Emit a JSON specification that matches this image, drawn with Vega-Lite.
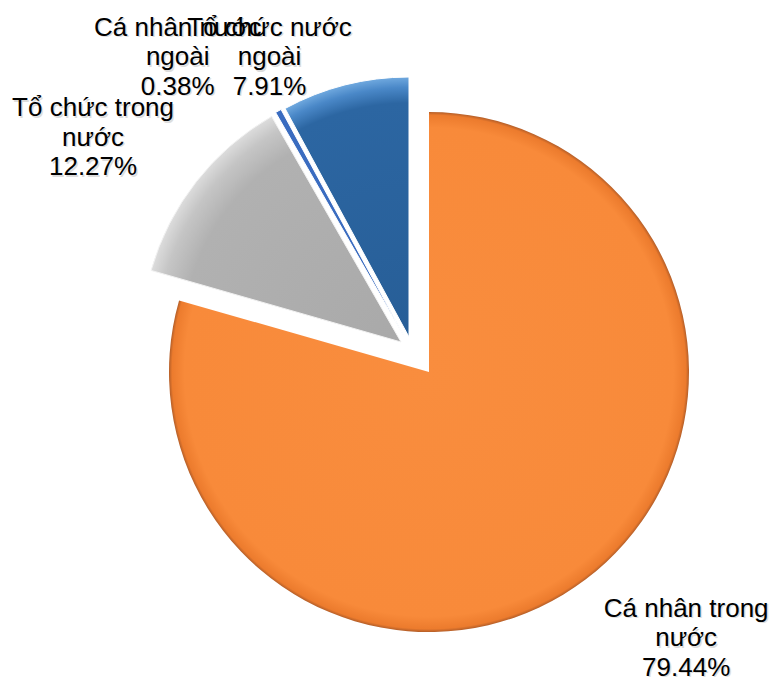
{
  "$schema": "https://vega.github.io/schema/vega-lite/v6.json",
  "width": 724,
  "height": 668,
  "autosize": {"type": "none"},
  "padding": {"left": 50, "top": 16, "right": 0, "bottom": 0},
  "background": "#ffffff",
  "config": {"view": {"stroke": null}},
  "data": {
    "values": [
      {"name": "Cá nhân trong nước", "value": 79.44, "label": "Cá nhân trong\nnước\n79.44%"},
      {"name": "Tổ chức trong nước", "value": 12.27, "label": "Tổ chức trong\nnước\n12.27%"},
      {"name": "Cá nhân nước ngoài", "value": 0.38, "label": "Cá nhân nước\nngoài\n0.38%"},
      {"name": "Tổ chức nước ngoài", "value": 7.91, "label": "Tổ chức nước\nngoài\n7.91%"}
    ]
  },
  "transform": [{"window": [{"op": "row_number", "as": "idx"}]}],
  "encoding": {
    "theta": {"field": "value", "type": "quantitative", "stack": true},
    "order": {"field": "idx", "type": "quantitative"},
    "detail": {"field": "name", "type": "nominal"}
  },
  "layer": [
    {
      "mark": {"type": "arc", "radius": 260, "xOffset": 17, "yOffset": 22, "strokeWidth": 0,
        "fill": {"gradient": "radial", "x1": 0.5, "y1": 0.5, "r1": 0, "x2": 0.5, "y2": 0.5, "r2": 0.5,
          "stops": [{"offset": 0, "color": "#F98D3E"}, {"offset": 0.94, "color": "#F88A3A"}, {"offset": 0.988, "color": "#EC7B2D"}, {"offset": 1, "color": "#B45E28"}]}},
      "encoding": {
        "opacity": {"condition": {"test": "datum.name === 'Cá nhân trong nước'", "value": 1}, "value": 0}
      }
    },
    {
      "mark": {"type": "arc", "radius": 260, "xOffset": -11, "yOffset": -8, "stroke": "#f2f2f2", "strokeWidth": 1,
        "fill": {"gradient": "radial", "x1": 1, "y1": 0.952, "r1": 0, "x2": 1, "y2": 0.952, "r2": 1.04,
          "stops": [{"offset": 0, "color": "#A9A9A9"}, {"offset": 0.84, "color": "#B1B1B1"}, {"offset": 0.94, "color": "#C5C5C5"}, {"offset": 1, "color": "#DCDCDC"}]}},
      "encoding": {
        "opacity": {"condition": {"test": "datum.name === 'Tổ chức trong nước'", "value": 1}, "value": 0}
      }
    },
    {
      "mark": {"type": "arc", "radius": 260, "xOffset": -7, "yOffset": -12, "stroke": "#ffffff", "strokeWidth": 1, "fill": "#3A6CC0"},
      "encoding": {
        "opacity": {"condition": {"test": "datum.name === 'Cá nhân nước ngoài'", "value": 1}, "value": 0}
      }
    },
    {
      "mark": {"type": "arc", "radius": 260, "xOffset": -3, "yOffset": -13, "stroke": "#ffffff", "strokeWidth": 1,
        "fill": {"gradient": "radial", "x1": 0.738, "y1": 1, "r1": 0, "x2": 0.738, "y2": 1, "r2": 1.0,
          "stops": [{"offset": 0, "color": "#275E97"}, {"offset": 0.9, "color": "#2C66A2"}, {"offset": 0.96, "color": "#4A88C8"}, {"offset": 1, "color": "#70A9DF"}]}},
      "encoding": {
        "opacity": {"condition": {"test": "datum.name === 'Tổ chức nước ngoài'", "value": 1}, "value": 0}
      }
    },
    {
      "mark": {"type": "text", "radius": 394, "dx": 38.5, "dy": -54.5, "font": "Liberation Sans", "fontSize": 26, "lineHeight": 29.5, "lineBreak": "\n", "align": "center", "baseline": "middle", "fill": "#000000"},
      "encoding": {
        "text": {"field": "label", "type": "nominal"},
        "opacity": {"condition": {"test": "datum.name === 'Cá nhân trong nước'", "value": 0.13}, "value": 0}
      }
    },
    {
      "mark": {"type": "text", "radius": 381, "dx": -17.5, "dy": -5.5, "font": "Liberation Sans", "fontSize": 26, "lineHeight": 29.5, "lineBreak": "\n", "align": "center", "baseline": "middle", "fill": "#000000"},
      "encoding": {
        "text": {"field": "label", "type": "nominal"},
        "opacity": {"condition": {"test": "datum.name === 'Tổ chức trong nước'", "value": 0.13}, "value": 0}
      }
    },
    {
      "mark": {"type": "text", "radius": 370, "dx": -52.5, "dy": 2.5, "font": "Liberation Sans", "fontSize": 26, "lineHeight": 29.5, "lineBreak": "\n", "align": "center", "baseline": "middle", "fill": "#000000"},
      "encoding": {
        "text": {"field": "label", "type": "nominal"},
        "opacity": {"condition": {"test": "datum.name === 'Cá nhân nước ngoài'", "value": 0.13}, "value": 0}
      }
    },
    {
      "mark": {"type": "text", "radius": 319, "dx": -62.5, "dy": -11.5, "font": "Liberation Sans", "fontSize": 26, "lineHeight": 29.5, "lineBreak": "\n", "align": "center", "baseline": "middle", "fill": "#000000"},
      "encoding": {
        "text": {"field": "label", "type": "nominal"},
        "opacity": {"condition": {"test": "datum.name === 'Tổ chức nước ngoài'", "value": 0.13}, "value": 0}
      }
    },
    {
      "mark": {"type": "text", "radius": 394, "dx": 37, "dy": -56, "font": "Liberation Sans", "fontSize": 26, "lineHeight": 29.5, "lineBreak": "\n", "align": "center", "baseline": "middle", "fill": "#000000"},
      "encoding": {
        "text": {"field": "label", "type": "nominal"},
        "opacity": {"condition": {"test": "datum.name === 'Cá nhân trong nước'", "value": 1}, "value": 0}
      }
    },
    {
      "mark": {"type": "text", "radius": 381, "dx": -19, "dy": -7, "font": "Liberation Sans", "fontSize": 26, "lineHeight": 29.5, "lineBreak": "\n", "align": "center", "baseline": "middle", "fill": "#000000"},
      "encoding": {
        "text": {"field": "label", "type": "nominal"},
        "opacity": {"condition": {"test": "datum.name === 'Tổ chức trong nước'", "value": 1}, "value": 0}
      }
    },
    {
      "mark": {"type": "text", "radius": 370, "dx": -54, "dy": 1, "font": "Liberation Sans", "fontSize": 26, "lineHeight": 29.5, "lineBreak": "\n", "align": "center", "baseline": "middle", "fill": "#000000"},
      "encoding": {
        "text": {"field": "label", "type": "nominal"},
        "opacity": {"condition": {"test": "datum.name === 'Cá nhân nước ngoài'", "value": 1}, "value": 0}
      }
    },
    {
      "mark": {"type": "text", "radius": 319, "dx": -64, "dy": -13, "font": "Liberation Sans", "fontSize": 26, "lineHeight": 29.5, "lineBreak": "\n", "align": "center", "baseline": "middle", "fill": "#000000"},
      "encoding": {
        "text": {"field": "label", "type": "nominal"},
        "opacity": {"condition": {"test": "datum.name === 'Tổ chức nước ngoài'", "value": 1}, "value": 0}
      }
    }
  ]
}
